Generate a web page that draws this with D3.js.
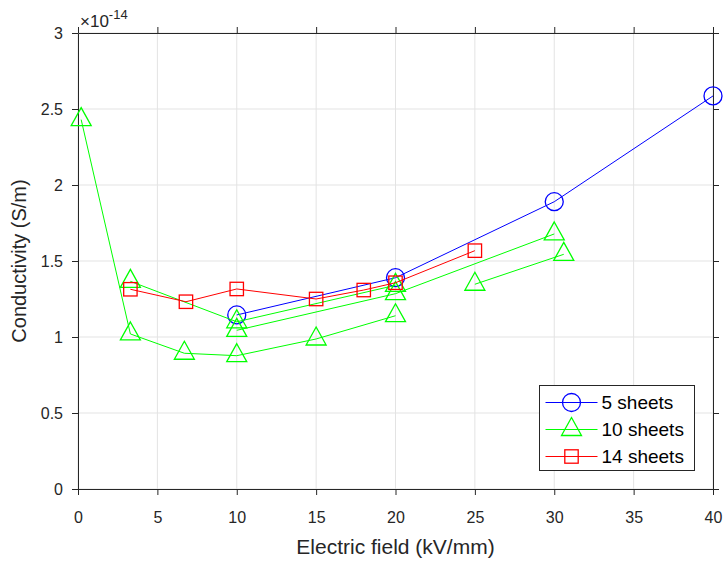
<!DOCTYPE html>
<html>
<head>
<meta charset="utf-8">
<script src="https://cdn.jsdelivr.net/npm/d3@7"></script>
<style>
  html, body { margin: 0; padding: 0; background: #fff; }
  svg { display: block; font-family: "Liberation Sans", Arial, Helvetica, sans-serif; }
</style>
</head>
<body>
<div id="chart"></div>
<script>
// Conductivity vs electric field, valeurs en unités de 1e-14 S/m
const xTicks = [0, 5, 10, 15, 20, 25, 30, 35, 40]
const yTicks = [0, 0.5, 1, 1.5, 2, 2.5, 3]

const sheets5X = [10, 20, 30, 40]
const sheets5Y = [1.145, 1.39, 1.89, 2.586]

// 10 sheets : plusieurs courbes vertes, une seule entrée de légende
const sheets10aX = [0.2, 3.3, 6.7, 10, 15, 20]
const sheets10aY = [2.43, 1.02, 0.893, 0.877, 0.987, 1.14]
const sheets10bX = [3.3, 10, 20]
const sheets10bY = [1.366, 1.1, 1.34]
const sheets10cX = [10, 20, 30]
const sheets10cY = [1.044, 1.285, 1.678]
const sheets10dX = [25, 30.6]
const sheets10dY = [1.347, 1.544]

const sheets14X = [3.3, 6.8, 10, 15, 18, 20, 25]
const sheets14Y = [1.314, 1.232, 1.316, 1.25, 1.309, 1.357, 1.568]

const W = 724, H = 561
const margin = { top: 33, right: 11, bottom: 72, left: 78 }
const iw = W - margin.left - margin.right
const ih = H - margin.top - margin.bottom
const axisCol = "#262626"

const svg = d3.select("#chart").append("svg")
  .attr("width", W).attr("height", H)
  .style("background", "#fff")

const x = d3.scaleLinear().domain([0, 40]).range([0, iw])
const y = d3.scaleLinear().domain([0, 3]).range([ih, 0])

const g = svg.append("g").attr("transform", `translate(${margin.left},${margin.top})`)

// Grille
g.append("g").selectAll("line").data(xTicks).join("line")
  .attr("x1", d => x(d)).attr("x2", d => x(d))
  .attr("y1", 0).attr("y2", ih)
  .attr("stroke", "#e3e3e3").attr("stroke-width", 1)
g.append("g").selectAll("line").data(yTicks).join("line")
  .attr("x1", 0).attr("x2", iw)
  .attr("y1", d => y(d)).attr("y2", d => y(d))
  .attr("stroke", "#e3e3e3").attr("stroke-width", 1)

// Axes (ticks vers l'extérieur, sur les quatre côtés)
const fmtY = d => String(d)
const styleAxis = s => {
  s.attr("color", axisCol)
  s.selectAll("text").attr("font-size", 16).attr("fill", axisCol)
  s.select(".domain").attr("stroke-width", 1)
}
g.append("g").attr("transform", `translate(0,${ih})`)
  .call(d3.axisBottom(x).tickValues(xTicks).tickSize(6).tickSizeOuter(0).tickPadding(17).tickFormat(d => String(d)))
  .call(styleAxis)
g.append("g")
  .call(d3.axisTop(x).tickValues(xTicks).tickSize(6).tickSizeOuter(0).tickFormat(""))
  .call(styleAxis)
g.append("g")
  .call(d3.axisLeft(y).tickValues(yTicks).tickSize(6).tickSizeOuter(0).tickPadding(9).tickFormat(fmtY))
  .call(styleAxis)
g.append("g").attr("transform", `translate(${iw},0)`)
  .call(d3.axisRight(y).tickValues(yTicks).tickSize(6).tickSizeOuter(0).tickFormat(""))
  .call(styleAxis)

// Exposant
const expo = svg.append("text")
  .attr("x", margin.left + 2).attr("y", margin.top - 6)
  .attr("font-size", 17).attr("fill", axisCol)
expo.append("tspan").text("×10")
expo.append("tspan").attr("font-size", 13).attr("dy", -8).text("-14")

// Titres d'axes
svg.append("text")
  .attr("x", margin.left + iw / 2).attr("y", 554)
  .attr("text-anchor", "middle").attr("font-size", 21).attr("fill", axisCol)
  .text("Electric field (kV/mm)")
svg.append("text")
  .attr("transform", `translate(26,${margin.top + ih / 2}) rotate(-90)`)
  .attr("text-anchor", "middle").attr("font-size", 20).attr("fill", axisCol)
  .text("Conductivity (S/m)")

// Marqueurs
const circle = (sel, r = 9) => sel.append("circle").attr("r", r)
const triangle = sel => sel.append("path").attr("d", "M0,-12L10,6L-10,6Z")
const square = sel => sel.append("rect").attr("x", -6.7).attr("y", -6.7).attr("width", 13.4).attr("height", 13.4)

const line = d3.line().x(d => x(d[0])).y(d => y(d[1]))

function drawSeries(xs, ys, color, marker) {
  const pts = xs.map((v, i) => [v, ys[i]])
  const s = g.append("g")
  s.append("path").datum(pts).attr("d", line)
    .attr("fill", "none").attr("stroke", color).attr("stroke-width", 1)
  pts.forEach(p => {
    const m = s.append("g").attr("transform", `translate(${x(p[0])},${y(p[1])})`)
    marker(m).attr("fill", "none").attr("stroke", color).attr("stroke-width", 1.3)
  })
}

drawSeries(sheets5X, sheets5Y, "#0000ff", circle)
drawSeries(sheets10aX, sheets10aY, "#00ff00", triangle)
drawSeries(sheets10bX, sheets10bY, "#00ff00", triangle)
drawSeries(sheets10cX, sheets10cY, "#00ff00", triangle)
drawSeries(sheets10dX, sheets10dY, "#00ff00", triangle)
drawSeries(sheets14X, sheets14Y, "#ff0000", square)

// Légende
const legendItems = [
  { label: "5 sheets", color: "#0000ff", marker: circle },
  { label: "10 sheets", color: "#00ff00", marker: triangle },
  { label: "14 sheets", color: "#ff0000", marker: square },
]
const lg = svg.append("g").attr("transform", "translate(539.5,385.5)")
lg.append("rect").attr("width", 155).attr("height", 85)
  .attr("fill", "#fff").attr("stroke", axisCol).attr("stroke-width", 1)
legendItems.forEach((it, i) => {
  const cy = 17 + i * 27
  lg.append("line").attr("x1", 6).attr("x2", 58).attr("y1", cy).attr("y2", cy)
    .attr("stroke", it.color).attr("stroke-width", 1)
  const m = lg.append("g").attr("transform", `translate(32,${cy})`)
  it.marker(m).attr("fill", "none").attr("stroke", it.color).attr("stroke-width", 1.3)
  lg.append("text").attr("x", 62).attr("y", cy).attr("dy", "0.35em")
    .attr("font-size", 19).attr("fill", "#000").text(it.label)
})
</script>
</body>
</html>
